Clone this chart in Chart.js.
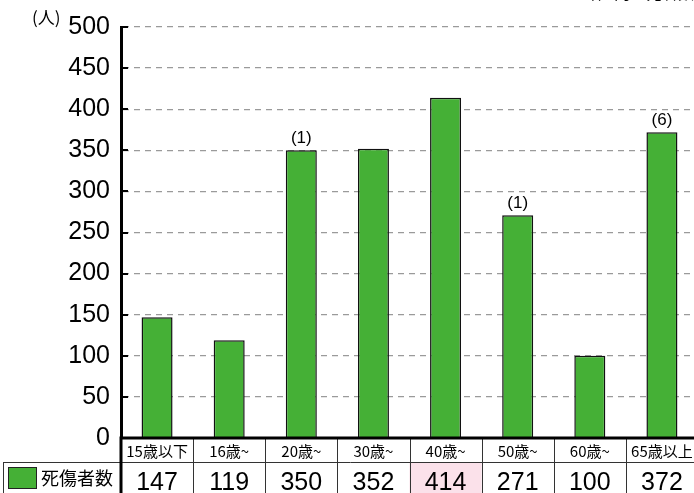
<!DOCTYPE html>
<html lang="ja">
<head>
<meta charset="utf-8">
<script src="https://cdn.jsdelivr.net/npm/chart.js@4.4.0/dist/chart.umd.min.js"></script>
<style>
  html, body { margin: 0; padding: 0; background: #fff; overflow: hidden; }
  #wrap { position: relative; width: 698px; height: 493px; }
</style>
</head>
<body>
<div id="wrap"><canvas id="grafico"></canvas></div>
<script>
// 年齢層別の死傷者数（括弧内は死者数）
const ageGroups = ['15歳以下', '16歳~', '20歳~', '30歳~', '40歳~', '50歳~', '60歳~', '65歳以上'];
const casualties = [147, 119, 350, 352, 414, 271, 100, 372];
const deaths = [null, null, 1, null, null, 1, null, 6];
const yTicks = [0, 50, 100, 150, 200, 250, 300, 350, 400, 450, 500];
const highlightIndex = 4; // 最多の年齢層

const verde = '#45b036';
const fonteNum = '"Liberation Sans", Arial, sans-serif';
const fonteJp = '"Noto Sans CJK JP", "Noto Sans", sans-serif';

// 表・注記・軸まわりの描画
const tabelaPlugin = {
  id: 'tabela',
  afterDraw(chart) {
    const { ctx, chartArea } = chart;
    const left = chartArea.left, right = chartArea.right, bottom = chartArea.bottom;
    const colW = (right - left) / ageGroups.length;
    const row1 = bottom + 24, row2 = 493 + 4;

    ctx.save();

    // 括弧内の死者数
    const meta = chart.getDatasetMeta(0);
    ctx.fillStyle = '#000';
    ctx.font = '17px ' + fonteNum;
    ctx.textAlign = 'center';
    ctx.textBaseline = 'alphabetic';
    deaths.forEach((d, i) => {
      if (d == null) return;
      const bar = meta.data[i];
      ctx.fillText('(' + d + ')', bar.x, bar.y - 7);
    });

    // 単位と注記
    ctx.font = '17px ' + fonteJp;
    ctx.textAlign = 'left';
    ctx.fillText('(人)', 32, 24);
    ctx.textAlign = 'right';
    ctx.font = '16px ' + fonteJp;
    ctx.fillText('（ ）内は死者数', 694, -1);

    // 最多値のセル背景
    ctx.fillStyle = '#fbe1ea';
    ctx.fillRect(left + colW * highlightIndex, row1, colW, row2 - row1);

    // 表の罫線
    ctx.strokeStyle = '#333';
    ctx.lineWidth = 1;
    ctx.beginPath();
    ctx.moveTo(3, row1 + 0.5); ctx.lineTo(right, row1 + 0.5);
    ctx.moveTo(3.5, row1); ctx.lineTo(3.5, row2);
    for (let i = 1; i <= ageGroups.length; i++) {
      const x = Math.round(left + colW * i) + 0.5;
      ctx.moveTo(x, bottom); ctx.lineTo(x, row2);
    }
    ctx.stroke();

    // 軸線
    ctx.strokeStyle = '#000';
    ctx.lineWidth = 3;
    ctx.beginPath();
    ctx.moveTo(left - 1.5, bottom); ctx.lineTo(right, bottom);
    ctx.moveTo(left, bottom); ctx.lineTo(left, row2);
    ctx.stroke();

    // 内向きの目盛り
    const y = chart.scales.y;
    ctx.lineWidth = 2;
    ctx.beginPath();
    yTicks.forEach(v => {
      const py = Math.round(y.getPixelForValue(v));
      ctx.moveTo(left, py); ctx.lineTo(left + 7, py);
    });
    ctx.stroke();

    // 年齢層ラベル
    ctx.fillStyle = '#000';
    ctx.textAlign = 'center';
    ctx.textBaseline = 'middle';
    ctx.font = '15px ' + fonteJp;
    ageGroups.forEach((g, i) => {
      ctx.fillText(g, left + colW * (i + 0.5), bottom + 13);
    });

    // 死傷者数
    ctx.font = '25px ' + fonteNum;
    ctx.textBaseline = 'alphabetic';
    casualties.forEach((v, i) => {
      ctx.fillText(String(v), left + colW * (i + 0.5), 490);
    });

    // 凡例
    ctx.fillStyle = verde;
    ctx.fillRect(8, 467, 29, 22);
    ctx.strokeStyle = '#222';
    ctx.lineWidth = 1;
    ctx.strokeRect(8.5, 467.5, 28, 21);
    ctx.fillStyle = '#000';
    ctx.font = '18px ' + fonteJp;
    ctx.textAlign = 'left';
    ctx.textBaseline = 'middle';
    ctx.fillText('死傷者数', 41, 478);

    ctx.restore();
  }
};

new Chart('grafico', {
  type: 'bar',
  data: {
    labels: ageGroups,
    datasets: [{
      label: '死傷者数',
      data: casualties,
      backgroundColor: verde,
      borderColor: '#111',
      borderWidth: 1.5,
      barPercentage: 0.43,
      categoryPercentage: 1
    }]
  },
  options: {
    responsive: true,
    maintainAspectRatio: false,
    animation: false,
    layout: { padding: { top: 27, bottom: 55, left: 0, right: 0 } },
    plugins: { legend: { display: false }, tooltip: { enabled: false } },
    scales: {
      x: { display: false },
      y: {
        min: 0,
        max: 500,
        afterFit: s => { s.width = 121; },
        afterBuildTicks: s => { s.ticks = yTicks.map(v => ({ value: v })); },
        ticks: { color: '#000', padding: 11, font: { size: 25, family: fonteNum } },
        grid: { color: '#9a9a9a', lineWidth: 1.3, drawTicks: false },
        border: { display: true, color: '#000', width: 3, dash: [6, 5] }
      }
    }
  },
  plugins: [tabelaPlugin]
});
</script>
</body>
</html>
